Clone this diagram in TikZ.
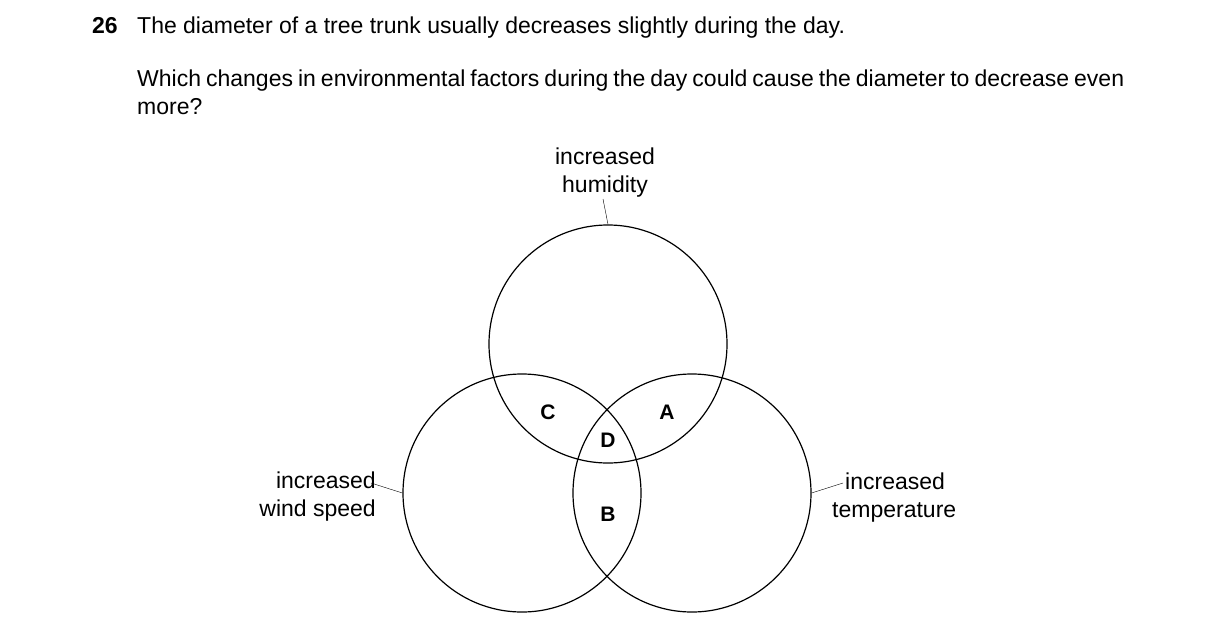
\documentclass[tikz,border=0pt]{standalone}
\usepackage{fontspec}
\setmainfont{Liberation Sans}
\usetikzlibrary{positioning}
\begin{document}
\begin{tikzpicture}[x=1pt,y=-1pt,
  set/.style={circle,draw,line width=1.2pt,minimum size=238pt,inner sep=0pt},
  lbl/.style={font=\fontsize{23}{28}\selectfont,inner sep=0pt},
  letter/.style={font=\fontsize{21}{22}\selectfont\bfseries,inner sep=0pt}]
  \useasboundingbox (0,0) rectangle (1216,637);
  % question
  \node[lbl,anchor=base west] (num) at (92,34) {\textbf{26}};
  \node[lbl,anchor=base west] (q1) at (137,34) {The diameter of a tree trunk usually decreases slightly during the day.};
  \node[lbl,anchor=base west,text width=987pt,align=justify] (q2) at (137,86)
    {Which changes in environmental factors during the day could cause the diameter to decrease even more?};
  % sets
  \node[set] (hum) at (608,344) {};
  \node[set] (wind) at (522,493) {};
  \node[set] (temp) at (692,493) {};
  % labels
  \node[lbl,align=center,anchor=south] (humlbl) at (605,197) {increased\\humidity};
  \node[lbl,align=right,anchor=east] (windlbl) at (376,497) {increased\\wind speed};
  \node[lbl,align=left,anchor=west] (templbl) at (832,498) {\hspace*{13pt}increased\\temperature};
  \coordinate (humend) at (603,199);
  \coordinate (windend) at (371,483);
  \coordinate (tempend) at (843,483);
  \draw (humend) -- (hum.north);
  \draw (windend) -- (wind.west);
  \draw (tempend) -- (temp.east);
  % regions
  \node[letter] (C) at (548,412) {C};
  \node[letter] (A) at (667,412) {A};
  \node[letter] (D) at (608,440) {D};
  \node[letter] (B) at (608,514) {B};
\end{tikzpicture}
\end{document}
